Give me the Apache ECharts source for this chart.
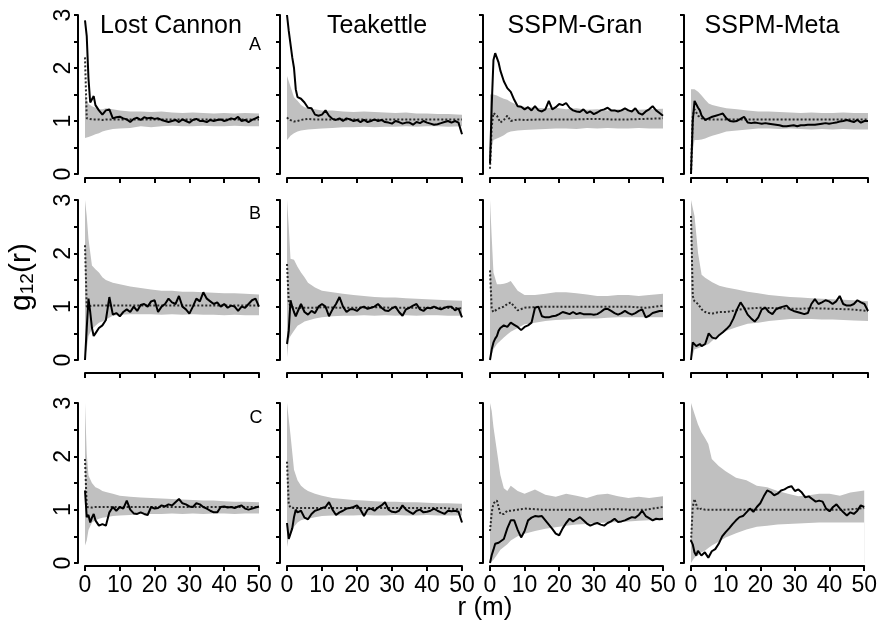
<!DOCTYPE html>
<html><head><meta charset="utf-8">
<script src="https://cdn.jsdelivr.net/npm/echarts@6/dist/echarts.min.js"></script>
<style>html,body{margin:0;padding:0;background:#fff}#c{width:880px;height:621px}</style>
</head><body><div id="c"></div>
<script>
// ---------- data ----------
const R = [0,0.5,1,1.5,2,2.5,3,4,5,6,7,8,9,10,11,12,13,14,15,16,17,18,19,20,21,22,23,24,25,26,27,28,29,30,31,32,33,34,35,36,37,38,39,40,41,42,43,44,45,46,47,48,49,50];
const RB = [0,0.5,1,2,3,4,5,6,8,10,13,16,19,22,25,28,31,34,37,40,43,46,50];
const RE = [0,0.5,1,2,3,4,5,6,8,10,15,20,25,30,35,40,45,50];
const sites = ['Lost Cannon','Teakettle','SSPM-Gran','SSPM-Meta'];
const rowLetters = ['A','B','C'];
const xTicks = [0,10,20,30,40,50];
const yTicks = [0,1,2,3];

// Row A
const A1_obs = [2.9,2.6,1.8,1.35,1.35,1.47,1.3,
1.2,1.12,1.2,1.22,1.05,1.07,1.08,
1.05,1.03,0.98,1.04,1.06,1.02,1.07,1.05,1.06,1.04,
1.05,1.02,1.0,0.98,1.0,1.02,0.98,1.03,1.0,0.97,
1.02,1.04,1.0,1.0,0.98,1.02,1.0,1.02,1.03,1.0,
1.02,1.05,1.03,1.08,1.0,1.02,0.98,1.02,1.05,1.08];
const A1_exp = [2.2,1.05,1.03,1.03,1.03,1.03,1.02,1.03,1.03,1.03,1.03,1.03,1.03,1.03,1.03,1.03,1.03,1.03];
const A1_lo = [0.68,0.68,0.7,0.72,0.75,0.77,0.8,0.82,0.85,0.86,0.87,0.9,0.88,0.9,0.91,0.9,0.9,0.91,0.9,0.9,0.91,0.9,0.9];
const A1_hi = [1.5,1.4,1.32,1.28,1.25,1.22,1.22,1.24,1.22,1.2,1.18,1.18,1.17,1.18,1.16,1.15,1.16,1.15,1.14,1.15,1.14,1.15,1.14];

const A2_obs = [3.0,2.7,2.45,2.2,2.0,1.6,1.45,
1.42,1.35,1.25,1.24,1.12,1.1,1.12,
1.2,1.1,1.04,1.02,1.05,1.0,1.05,1.03,1.0,1.02,
0.98,1.02,0.98,1.0,1.03,1.0,1.02,0.98,0.97,0.95,
1.0,0.98,0.95,0.97,0.97,0.93,0.98,0.96,1.0,0.97,
0.95,0.93,0.94,0.96,0.98,1.0,0.97,1.0,0.97,0.75];
const A2_exp = [1.07,1.03,1.0,0.99,1.0,1.02,1.03,1.04,1.03,1.03,1.03,1.03,1.02,1.03,1.03,1.03,1.03,1.03];
const A2_lo = [0.64,0.68,0.72,0.77,0.8,0.82,0.83,0.84,0.85,0.86,0.87,0.88,0.88,0.89,0.88,0.89,0.89,0.9,0.89,0.9,0.9,0.89,0.9];
const A2_hi = [1.85,1.75,1.65,1.45,1.38,1.3,1.26,1.24,1.22,1.2,1.2,1.18,1.17,1.18,1.17,1.16,1.15,1.16,1.14,1.14,1.13,1.13,1.12];

const A3_obs = [0.2,1.3,2.15,2.28,2.25,2.1,1.95,
1.75,1.62,1.55,1.4,1.28,1.27,1.22,
1.26,1.2,1.28,1.2,1.18,1.22,1.38,1.22,1.26,1.32,
1.3,1.34,1.25,1.2,1.18,1.17,1.22,1.15,1.18,1.13,
1.16,1.2,1.22,1.25,1.2,1.2,1.18,1.2,1.24,1.2,
1.18,1.24,1.15,1.12,1.18,1.22,1.28,1.2,1.15,1.1];
const A3_exp = [0.1,0.9,1.15,1.1,0.97,1.02,1.1,1.0,1.03,1.02,1.03,1.03,1.03,1.04,1.03,1.03,1.04,1.05];
const A3_lo = [0.1,0.5,0.64,0.67,0.7,0.73,0.78,0.8,0.82,0.83,0.84,0.85,0.86,0.86,0.85,0.87,0.86,0.87,0.86,0.86,0.87,0.86,0.86];
const A3_hi = [1.5,1.52,1.5,1.48,1.45,1.42,1.4,1.36,1.3,1.27,1.25,1.24,1.25,1.22,1.24,1.21,1.22,1.2,1.22,1.2,1.21,1.22,1.23];

const A4_obs = [0.0,1.0,1.38,1.35,1.25,1.2,1.1,
1.02,1.05,1.08,1.1,1.12,1.14,1.05,
1.0,0.99,1.0,1.04,1.08,0.97,0.96,0.97,0.96,0.95,
0.96,0.95,0.94,0.93,0.92,0.9,0.9,0.91,0.92,0.9,
0.92,0.92,0.93,0.93,0.93,0.94,0.95,0.96,0.95,0.96,
0.97,0.99,1.0,1.02,1.0,0.98,1.02,0.97,1.0,1.0];
const A4_exp = [0.0,1.1,1.22,1.1,1.05,1.02,1.03,1.03,1.03,1.03,1.03,1.03,1.03,1.03,1.03,1.03,1.03,1.03];
const A4_lo = [0.3,0.45,0.64,0.64,0.65,0.67,0.7,0.72,0.76,0.8,0.82,0.84,0.86,0.86,0.85,0.86,0.85,0.84,0.85,0.84,0.85,0.84,0.84];
const A4_hi = [1.6,1.62,1.6,1.55,1.48,1.4,1.33,1.3,1.27,1.24,1.22,1.2,1.18,1.18,1.17,1.16,1.15,1.16,1.15,1.15,1.16,1.15,1.15];

// Row B
const B1_obs = [0.0,0.6,1.15,0.9,0.6,0.45,0.5,
0.6,0.65,0.75,1.18,0.85,0.88,0.82,
0.9,0.95,0.9,1.0,0.92,1.03,1.05,1.0,1.1,1.12,
0.9,1.0,1.05,1.15,1.08,1.05,1.2,1.0,0.95,0.87,
1.0,1.15,1.1,1.27,1.15,1.1,1.05,1.08,1.0,1.05,
0.98,1.02,1.0,0.92,1.0,0.98,1.05,1.12,1.15,1.0];
const B1_exp = [2.15,1.0,1.02,1.02,1.02,1.02,1.02,1.02,1.02,1.02,1.02,1.02,1.02,1.02,1.02,1.02,1.02,1.02];
const B1_lo = [0.05,0.2,0.45,0.58,0.64,0.7,0.72,0.76,0.83,0.85,0.86,0.86,0.86,0.85,0.86,0.85,0.86,0.85,0.85,0.84,0.85,0.84,0.84];
const B1_hi = [3.0,2.7,2.27,1.77,1.7,1.64,1.55,1.5,1.45,1.42,1.38,1.35,1.32,1.3,1.3,1.28,1.28,1.27,1.26,1.25,1.25,1.24,1.23];

const B2_obs = [0.3,0.55,1.12,1.0,0.9,0.82,0.9,
1.05,0.9,0.85,0.92,0.88,1.0,1.05,
1.0,0.82,0.95,1.05,1.18,1.0,0.9,0.95,0.95,0.92,
0.98,1.0,0.96,0.98,1.0,1.05,0.98,0.93,0.92,0.97,
1.0,0.9,0.83,0.95,0.98,1.02,1.05,0.95,0.92,0.98,
0.97,1.0,0.97,0.95,0.98,1.0,1.0,0.93,0.97,0.8];
const B2_exp = [1.8,1.1,1.0,0.98,0.97,0.98,0.98,0.98,0.98,0.99,0.98,0.98,0.99,0.98,0.98,0.98,0.98,0.97];
const B2_lo = [0.05,0.39,0.45,0.55,0.64,0.68,0.72,0.74,0.78,0.8,0.82,0.83,0.83,0.84,0.83,0.84,0.83,0.84,0.83,0.84,0.84,0.83,0.83];
const B2_hi = [3.0,2.5,1.9,1.88,1.75,1.64,1.55,1.45,1.36,1.3,1.27,1.24,1.22,1.2,1.18,1.17,1.17,1.16,1.15,1.14,1.13,1.12,1.11];

const B3_obs = [0.0,0.2,0.33,0.4,0.45,0.55,0.6,
0.65,0.62,0.7,0.66,0.62,0.56,0.62,
0.65,0.7,0.98,1.0,0.82,0.8,0.8,0.82,0.83,0.86,
0.9,0.88,0.86,0.9,0.86,0.88,0.86,0.86,0.86,0.85,
0.86,0.9,0.95,0.96,0.92,0.88,0.85,0.88,0.92,0.88,
0.85,0.88,0.92,0.95,0.8,0.83,0.88,0.9,0.92,0.92];
const B3_exp = [1.68,0.95,0.9,0.95,0.98,1.0,1.05,1.08,0.93,0.98,1.0,1.0,1.0,1.0,1.0,1.0,0.98,1.02];
const B3_lo = [0.0,0.1,0.2,0.3,0.36,0.42,0.48,0.53,0.6,0.67,0.7,0.73,0.75,0.76,0.77,0.78,0.78,0.79,0.8,0.8,0.8,0.8,0.8];
const B3_hi = [3.0,2.3,1.64,1.42,1.42,1.43,1.45,1.48,1.3,1.22,1.22,1.24,1.27,1.27,1.25,1.23,1.2,1.2,1.22,1.22,1.2,1.22,1.24];

const B4_obs = [0.0,0.33,0.3,0.26,0.28,0.3,0.26,
0.3,0.5,0.42,0.4,0.47,0.52,0.58,
0.65,0.78,0.95,1.08,0.98,0.85,0.78,0.72,0.8,0.95,
0.98,0.9,0.86,0.95,0.98,1.0,1.02,0.95,0.92,0.9,
0.88,0.86,0.88,1.05,1.14,1.05,1.08,1.12,1.1,1.05,
1.1,1.2,1.05,1.02,1.02,1.05,1.12,1.08,1.05,0.92];
const B4_exp = [2.7,1.2,1.1,1.05,0.95,0.9,0.88,0.87,0.9,0.9,0.96,0.98,0.97,0.96,0.97,0.96,0.95,0.92];
const B4_lo = [0.0,0.1,0.2,0.22,0.25,0.27,0.3,0.36,0.47,0.55,0.62,0.68,0.7,0.73,0.75,0.77,0.77,0.77,0.76,0.76,0.75,0.74,0.73];
const B4_hi = [3.0,3.0,2.7,2.0,1.6,1.54,1.5,1.46,1.39,1.36,1.32,1.28,1.25,1.22,1.2,1.18,1.17,1.16,1.15,1.14,1.13,1.12,1.1];

// Row C
const C1_obs = [1.36,0.86,0.9,0.76,0.85,0.92,0.8,
0.7,0.73,0.7,0.95,1.05,0.98,1.05,
1.02,1.17,1.0,0.93,0.92,0.95,0.92,0.9,1.05,1.02,
1.03,1.08,1.06,1.1,1.08,1.14,1.2,1.12,1.1,1.06,
1.05,1.12,1.1,1.05,1.02,0.98,0.95,0.95,1.05,1.06,
1.04,1.05,1.03,1.06,1.08,1.02,1.0,1.02,1.04,1.06];
const C1_exp = [1.95,1.05,1.05,1.04,1.05,1.05,1.05,1.05,1.05,1.05,1.05,1.05,1.05,1.05,1.05,1.05,1.05,1.05];
const C1_lo = [0.33,0.42,0.62,0.76,0.8,0.83,0.85,0.86,0.88,0.89,0.9,0.92,0.92,0.92,0.93,0.92,0.93,0.92,0.93,0.93,0.92,0.93,0.93];
const C1_hi = [3.0,2.05,1.64,1.5,1.42,1.39,1.35,1.33,1.3,1.26,1.24,1.23,1.22,1.21,1.2,1.19,1.18,1.17,1.17,1.16,1.15,1.15,1.14];

const C2_obs = [0.75,0.45,0.55,0.65,0.86,1.0,0.95,
0.98,0.85,0.82,0.92,0.98,1.0,1.03,
1.05,1.14,1.0,0.9,0.95,0.98,1.02,1.03,1.05,1.08,
1.0,0.88,1.0,1.02,0.98,1.04,1.08,1.14,1.0,0.96,
0.95,0.98,1.08,1.0,0.96,0.92,0.98,1.0,0.95,0.96,
0.98,1.02,0.98,0.95,0.92,0.98,0.97,0.98,0.96,0.76];
const C2_exp = [1.9,1.1,1.04,1.03,1.03,1.03,1.03,1.03,1.03,1.03,1.03,1.03,1.03,1.03,1.03,1.03,1.03,1.0];
const C2_lo = [0.3,0.48,0.55,0.68,0.76,0.8,0.82,0.83,0.86,0.88,0.89,0.89,0.89,0.9,0.89,0.89,0.9,0.89,0.89,0.9,0.89,0.89,0.89];
const C2_hi = [3.0,3.0,2.4,1.75,1.55,1.45,1.39,1.35,1.3,1.26,1.22,1.2,1.18,1.17,1.16,1.15,1.15,1.14,1.14,1.13,1.12,1.12,1.11];

const C3_obs = [0.0,0.15,0.25,0.36,0.33,0.38,0.4,
0.45,0.65,0.8,0.8,0.62,0.48,0.6,
0.8,0.85,0.88,0.87,0.88,0.8,0.72,0.64,0.55,0.52,
0.65,0.75,0.83,0.78,0.82,0.86,0.8,0.74,0.7,0.73,
0.75,0.72,0.7,0.75,0.78,0.83,0.77,0.78,0.8,0.83,
0.86,0.85,0.9,0.98,0.88,0.84,0.8,0.83,0.82,0.83];
const C3_exp = [0.6,0.95,1.12,1.17,0.92,0.92,0.98,0.98,1.0,1.02,1.0,1.0,1.0,1.0,1.01,1.0,1.0,1.05];
const C3_lo = [0.0,0.03,0.06,0.15,0.25,0.3,0.35,0.42,0.5,0.55,0.6,0.64,0.67,0.7,0.72,0.73,0.75,0.76,0.77,0.78,0.79,0.8,0.8];
const C3_hi = [3.0,2.85,2.55,2.1,1.65,1.4,1.35,1.45,1.35,1.3,1.38,1.28,1.24,1.3,1.26,1.22,1.28,1.3,1.25,1.22,1.24,1.22,1.25];

const C4_obs = [0.42,0.35,0.2,0.14,0.23,0.2,0.14,
0.2,0.1,0.22,0.26,0.36,0.5,0.58,
0.65,0.73,0.8,0.86,0.88,0.95,1.02,0.96,1.05,1.12,
1.25,1.36,1.33,1.27,1.3,1.36,1.38,1.42,1.44,1.35,
1.38,1.32,1.23,1.25,1.2,1.15,1.17,1.15,1.02,0.97,
1.05,1.1,1.02,0.95,0.89,0.95,0.92,0.98,1.08,1.05];
const C4_exp = [0.4,1.05,1.2,1.0,1.02,1.0,1.0,1.0,1.0,1.0,1.0,1.0,1.0,1.0,1.0,1.0,1.0,1.03];
const C4_lo = [0.0,0.05,0.1,0.14,0.2,0.23,0.28,0.33,0.4,0.48,0.56,0.63,0.68,0.7,0.72,0.73,0.74,0.75,0.76,0.76,0.76,0.76,0.76];
const C4_hi = [3.0,3.0,2.8,2.6,2.45,2.35,2.23,1.95,1.82,1.72,1.6,1.55,1.45,1.42,1.35,1.3,1.25,1.27,1.3,1.3,1.26,1.32,1.36];

// ---------- build ----------
const panels = [
  [A1_obs,A1_exp,A1_lo,A1_hi],[A2_obs,A2_exp,A2_lo,A2_hi],[A3_obs,A3_exp,A3_lo,A3_hi],[A4_obs,A4_exp,A4_lo,A4_hi],
  [B1_obs,B1_exp,B1_lo,B1_hi],[B2_obs,B2_exp,B2_lo,B2_hi],[B3_obs,B3_exp,B3_lo,B3_hi],[B4_obs,B4_exp,B4_lo,B4_hi],
  [C1_obs,C1_exp,C1_lo,C1_hi],[C2_obs,C2_exp,C2_lo,C2_hi],[C3_obs,C3_exp,C3_lo,C3_hi],[C4_obs,C4_exp,C4_lo,C4_hi]
];
const FONT = '"Liberation Sans", Arial, sans-serif';
const colLeft = [85, 287, 490, 691];
const colWidth = [174, 175, 173, 177];
const rowTop = [15, 200, 403];
const rowHeight = [159, 160, 160];
const xOffset = [4, 13, 3];

const grids = [], xAxes = [], yAxes = [], series = [];
panels.forEach((p, i) => {
  const r = Math.floor(i / 4), c = i % 4;
  const [obs, exp, lo, hi] = p;
  grids.push({left: colLeft[c], top: rowTop[r], width: colWidth[c], height: rowHeight[r]});
  xAxes.push({
    type: 'value', gridIndex: i, min: xTicks[0], max: xTicks[xTicks.length-1], interval: 10,
    offset: xOffset[r],
    axisLine: {show: true, onZero: false, lineStyle: {color: '#000', width: 2}},
    axisTick: {show: true, length: 5, lineStyle: {color: '#000', width: 2}},
    axisLabel: {show: r === 2, fontSize: 23, color: '#000', fontFamily: FONT, margin: 8,
      formatter: v => xTicks.includes(v) ? String(v) : ''},
    splitLine: {show: false}
  });
  yAxes.push({
    type: 'value', gridIndex: i, min: 0, max: 3, interval: 0.5, offset: 7,
    axisLine: {show: true, onZero: false, lineStyle: {color: '#000', width: 2}},
    axisTick: {show: true, length: 4, lineStyle: {color: '#000', width: 2}},
    axisLabel: {show: c === 0, rotate: 90, fontSize: 23, color: '#000', fontFamily: FONT, margin: 3,
      formatter: v => yTicks.includes(v) ? String(v) : ''},
    splitLine: {show: false}
  });
  // envelope: grey fill under upper bound, then white fill under lower bound
  series.push({
    type: 'line', xAxisIndex: i, yAxisIndex: i, symbol: 'none', silent: true,
    lineStyle: {width: 0, opacity: 0}, areaStyle: {color: '#c0c0c0', opacity: 1, origin: 'start'},
    data: RB.map((x, k) => [x, hi[k]]), animation: false, z: 1
  });
  series.push({
    type: 'line', xAxisIndex: i, yAxisIndex: i, symbol: 'none', silent: true,
    lineStyle: {width: 0, opacity: 0}, areaStyle: {color: '#ffffff', opacity: 1, origin: 'start'},
    data: RB.map((x, k) => [x, lo[k]]), animation: false, z: 1
  });
  series.push({
    type: 'line', xAxisIndex: i, yAxisIndex: i, symbol: 'none', silent: true,
    lineStyle: {color: '#2a2a2a', width: 2, type: [2, 2]},
    data: RE.map((x, k) => [x, exp[k]]), animation: false, z: 2
  });
  series.push({
    type: 'line', xAxisIndex: i, yAxisIndex: i, symbol: 'none', silent: true,
    lineStyle: {color: '#000', width: 2},
    data: R.map((x, k) => [x, obs[k]]), animation: false, z: 3
  });
});

const titleX = [171, 377, 575, 772];
const letterPos = [[255, 45], [255, 214], [256, 418]];
const elements = [];
sites.forEach((s, c) => elements.push({
  type: 'text', x: titleX[c], y: 26, z: 100,
  style: {text: s, font: '25px ' + FONT, fill: '#000', align: 'center', verticalAlign: 'middle', textAlign: 'center', textVerticalAlign: 'middle'}
}));
rowLetters.forEach((L, r) => elements.push({
  type: 'text', x: letterPos[r][0], y: letterPos[r][1], z: 100,
  style: {text: L, font: '18px ' + FONT, fill: '#000', align: 'center', verticalAlign: 'middle', textAlign: 'center', textVerticalAlign: 'middle'}
}));
elements.push({
  type: 'text', x: 22, y: 277, rotation: Math.PI / 2, z: 100,
  style: {
    text: '{g|g}{s|12}{g|(r)}', fill: '#000', align: 'center', verticalAlign: 'middle',
    textAlign: 'center', textVerticalAlign: 'middle',
    rich: {
      g: {fontSize: 30, lineHeight: 30, fontFamily: FONT, fill: '#000'},
      s: {fontSize: 19, lineHeight: 14, verticalAlign: 'bottom', fontFamily: FONT, fill: '#000'}
    }
  }
});
elements.push({
  type: 'text', x: 485, y: 608, z: 100,
  style: {text: 'r (m)', font: '26px ' + FONT, fill: '#000', align: 'center', verticalAlign: 'middle', textAlign: 'center', textVerticalAlign: 'middle'}
});

const chart = echarts.init(document.getElementById('c'), null, {renderer: 'canvas'});
chart.setOption({
  animation: false,
  backgroundColor: '#fff',
  grid: grids, xAxis: xAxes, yAxis: yAxes, series: series,
  graphic: {elements: elements}
});
</script></body></html>
